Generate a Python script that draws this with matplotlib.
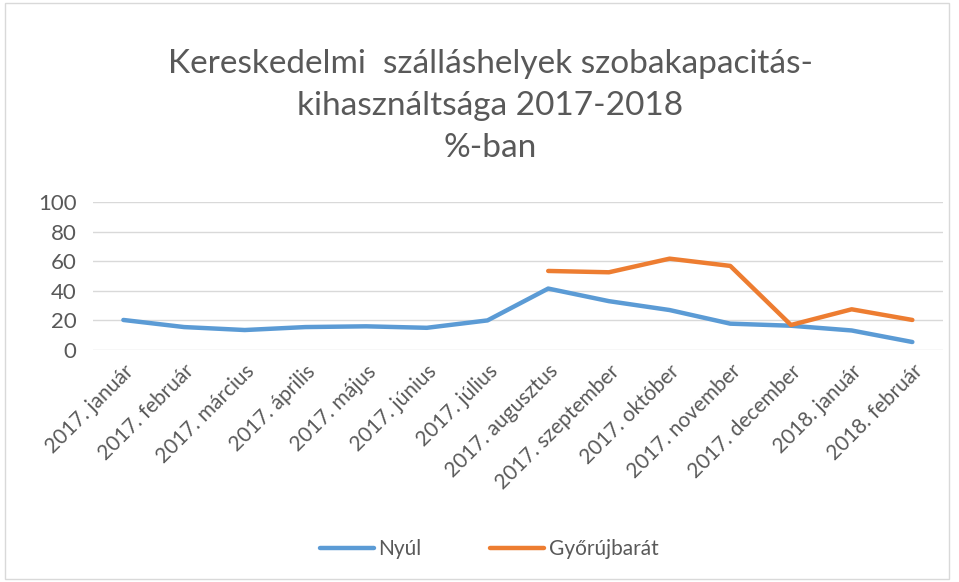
import matplotlib.pyplot as plt
import numpy as np

months = [
    "2017. január", "2017. február", "2017. március", "2017. április",
    "2017. május", "2017. június", "2017. július", "2017. augusztus",
    "2017. szeptember", "2017. október", "2017. november", "2017. december",
    "2018. január", "2018. február",
]
nyul = [20.3, 15.5, 13.5, 15.5, 16, 15, 20, 41.5, 33, 27, 17.8, 16.4, 13.2, 5.4]
gyorujbarat = [None] * 7 + [53.4, 52.5, 61.7, 56.8, 16.9, 27.5, 20.3]
yticks = [0, 20, 40, 60, 80, 100]

plt.rcParams["font.family"] = ["Lato", "DejaVu Sans"]
grey = "#595959"

fig = plt.figure(figsize=(9.59, 5.82), dpi=100)
ax = fig.add_axes([0.097, 0.3986, 0.886, 0.2544])

x = np.arange(len(months))
gy = np.array([np.nan if v is None else v for v in gyorujbarat], dtype=float)
ax.plot(x, nyul, color="#5b9bd5", lw=3.2, solid_capstyle="round", label="Nyúl")
ax.plot(x, gy, color="#ed7d31", lw=3.2, solid_capstyle="round", label="Győrújbarát")

ax.set_xlim(-0.5, len(months) - 0.5)
ax.set_ylim(0, 100)
ax.set_yticks(yticks)
ax.set_xticks(x)
ax.set_xticklabels(months, rotation=45, ha="right", rotation_mode="anchor")
ax.tick_params(axis="both", length=0, colors=grey)
ax.tick_params(axis="x", pad=8, labelsize=15)
ax.tick_params(axis="y", pad=12, labelsize=16)
ax.grid(axis="y", color="#d9d9d9", lw=1)
ax.set_axisbelow(True)
for s in ax.spines.values():
    s.set_visible(False)

fig.text(0.511, 0.818, "Kereskedelmi  szálláshelyek szobakapacitás-\nkihasználtsága 2017-2018\n%-ban",
         ha="center", va="center", fontsize=24, color=grey, linespacing=1.5)

fig.legend(loc="center", bbox_to_anchor=(0.51, 0.057), ncol=2, frameon=False,
           fontsize=15, labelcolor=grey, handlelength=2.6, handletextpad=0.2,
           columnspacing=3.3)

fig.patches.append(plt.Rectangle((0.005, 0.005), 0.985, 0.99, transform=fig.transFigure,
                                 fill=False, edgecolor="#d9d9d9", lw=1))

fig.savefig("out.png", dpi=100)
